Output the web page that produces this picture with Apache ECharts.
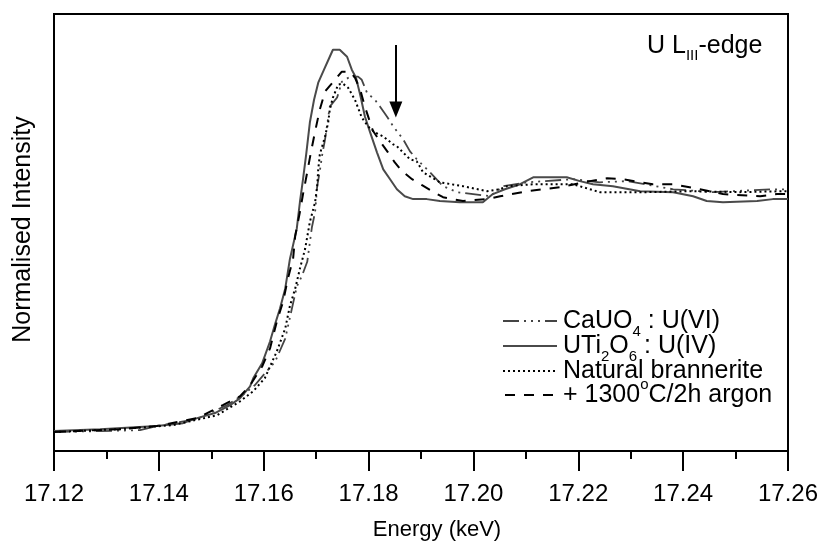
<!DOCTYPE html>
<html>
<head>
<meta charset="utf-8">
<script src="https://cdn.jsdelivr.net/npm/echarts@6/dist/echarts.min.js"></script>
<style>html,body{margin:0;padding:0;background:#fff}#c{width:823px;height:546px}</style>
</head>
<body>
<div id="c"></div>
<script>
// ---- Data (energy in keV, normalised intensity) ----
const caEnergy = [17.1200,17.1288,17.1364,17.1396,17.1473,17.1530,17.1564,17.1583,17.1599,17.1622,17.1641,17.1663,17.1673,17.1683,17.1692,17.1698,17.1702,17.1707,17.1711,17.1717,17.1726,17.1740,17.1749,17.1765,17.1780,17.1787,17.1797,17.1812,17.1822,17.1835,17.1847,17.1866,17.1879,17.1892,17.1917,17.1942,17.1969,17.2032,17.2056,17.2102,17.2190,17.2241,17.2293,17.2381,17.2457,17.2571,17.2600];
const caInt    = [-0.001,0.003,0.007,0.024,0.053,0.111,0.160,0.194,0.235,0.293,0.388,0.604,0.650,0.708,0.853,0.915,1.023,1.085,1.147,1.218,1.354,1.392,1.458,1.479,1.479,1.466,1.412,1.383,1.354,1.313,1.272,1.218,1.168,1.135,1.081,1.023,0.998,0.981,1.023,1.039,1.052,1.039,1.044,1.010,0.998,1.010,1.010];

const utiEnergy = [17.1200,17.1288,17.1396,17.1446,17.1473,17.1507,17.1536,17.1555,17.1574,17.1580,17.1597,17.1612,17.1622,17.1631,17.1641,17.1650,17.1663,17.1669,17.1675,17.1681,17.1688,17.1696,17.1704,17.1715,17.1726,17.1732,17.1745,17.1759,17.1768,17.1776,17.1784,17.1793,17.1803,17.1816,17.1828,17.1841,17.1854,17.1869,17.1885,17.1911,17.1936,17.1974,17.2018,17.2037,17.2060,17.2089,17.2114,17.2146,17.2178,17.2203,17.2228,17.2266,17.2318,17.2381,17.2419,17.2445,17.2476,17.2541,17.2571,17.2600];
const utiInt    = [0.003,0.011,0.024,0.036,0.057,0.078,0.111,0.140,0.189,0.223,0.285,0.376,0.451,0.513,0.596,0.720,0.845,0.956,1.052,1.155,1.288,1.383,1.454,1.508,1.562,1.591,1.591,1.562,1.508,1.475,1.404,1.313,1.247,1.164,1.093,1.052,1.010,0.981,0.969,0.969,0.961,0.956,0.956,0.990,1.010,1.031,1.060,1.060,1.060,1.044,1.031,1.023,1.002,0.998,0.981,0.961,0.956,0.961,0.969,0.969];

const natEnergy = [17.1200,17.1326,17.1427,17.1511,17.1555,17.1580,17.1602,17.1625,17.1641,17.1650,17.1660,17.1669,17.1679,17.1688,17.1698,17.1702,17.1704,17.1707,17.1717,17.1723,17.1726,17.1732,17.1742,17.1751,17.1761,17.1774,17.1787,17.1799,17.1812,17.1828,17.1847,17.1854,17.1879,17.1892,17.1904,17.1917,17.1936,17.1980,17.2026,17.2051,17.2064,17.2114,17.2190,17.2241,17.2331,17.2413,17.2508,17.2590,17.2600];
const natInt    = [-0.001,0.011,0.028,0.069,0.127,0.169,0.223,0.335,0.430,0.525,0.596,0.679,0.762,0.874,0.956,1.023,1.093,1.155,1.230,1.288,1.342,1.392,1.446,1.450,1.433,1.383,1.309,1.272,1.247,1.230,1.197,1.189,1.135,1.126,1.081,1.064,1.039,1.023,1.002,1.010,1.023,1.031,1.031,0.998,0.998,1.002,0.998,1.002,1.002];

const argEnergy = [17.1200,17.1326,17.1396,17.1473,17.1522,17.1555,17.1574,17.1597,17.1612,17.1625,17.1637,17.1646,17.1656,17.1660,17.1669,17.1675,17.1683,17.1690,17.1698,17.1707,17.1717,17.1726,17.1736,17.1749,17.1765,17.1774,17.1784,17.1793,17.1808,17.1822,17.1837,17.1850,17.1864,17.1883,17.1902,17.1921,17.1942,17.1980,17.2026,17.2051,17.2102,17.2165,17.2222,17.2255,17.2285,17.2342,17.2381,17.2432,17.2476,17.2547,17.2579,17.2600];
const argInt    = [-0.001,0.011,0.024,0.057,0.111,0.148,0.194,0.272,0.347,0.459,0.542,0.637,0.720,0.815,0.915,0.990,1.081,1.164,1.251,1.342,1.417,1.441,1.466,1.500,1.500,1.475,1.425,1.354,1.255,1.209,1.164,1.122,1.085,1.052,1.027,1.002,0.977,0.961,0.969,0.981,1.002,1.019,1.044,1.056,1.052,1.031,1.031,1.010,0.990,0.981,0.990,0.990];

const arrowEnergy = 17.1852;
const arrowFrom = 1.611;
const arrowTo = 1.342;

const xMin = 17.12, xMax = 17.26, xStep = 0.02;
const yMin = -0.08, yMax = 1.74;

const zip = (a, b) => a.map((v, i) => [v, b[i]]);

const FONT = '"Liberation Sans", Arial, sans-serif';
const LF = '25px ' + FONT;
const subRich = {s: {fontSize: 15, fontFamily: FONT, fill: '#000', verticalAlign: 'bottom', lineHeight: 15}};
const chart = echarts.init(document.getElementById('c'), null, {renderer: 'canvas'});
chart.setOption({
  animation: false,
  backgroundColor: '#fff',
  grid: {left: 54, right: 35, top: 14, bottom: 93, show: true, borderColor: '#000', borderWidth: 2, backgroundColor: 'transparent'},
  xAxis: {
    type: 'value', min: xMin, max: xMax, interval: xStep,
    name: 'Energy (keV)', nameLocation: 'middle', nameGap: 68,
    nameTextStyle: {fontFamily: FONT, fontSize: 22, color: '#000', padding: [0, 0, 0, 32]},
    axisLine: {show: true, onZero: false, lineStyle: {color: '#000', width: 2}},
    axisTick: {show: true, length: 20, lineStyle: {color: '#000', width: 2}},
    minorTick: {show: true, splitNumber: 2, length: 8, lineStyle: {color: '#000', width: 2}},
    axisLabel: {fontFamily: FONT, fontSize: 24, color: '#000', margin: 31, formatter: v => v.toFixed(2)},
    splitLine: {show: false}, minorSplitLine: {show: false}
  },
  yAxis: {
    type: 'value', min: yMin, max: yMax,
    name: 'Normalised Intensity', nameLocation: 'middle', nameGap: 18,
    nameTextStyle: {fontFamily: FONT, fontSize: 25, color: '#000', padding: [0, 0, 0, 6]},
    axisLine: {show: true, onZero: false, lineStyle: {color: '#000', width: 2}},
    axisTick: {show: false}, axisLabel: {show: false}, splitLine: {show: false}
  },
  series: [
    {name: 'CaUO4 : U(VI)', type: 'line', data: zip(caEnergy, caInt), showSymbol: false,
     lineStyle: {color: '#444', width: 1.8, type: [16, 5, 2, 5, 2, 5, 2, 5]}},
    {name: 'UTi2O6 : U(IV)', type: 'line', data: zip(utiEnergy, utiInt), showSymbol: false,
     lineStyle: {color: '#4a4a4a', width: 2, type: 'solid'},
     markLine: {silent: true, symbol: ['none', 'triangle'], symbolSize: [13, 16], label: {show: false},
       lineStyle: {color: '#000', width: 2, type: 'solid'},
       data: [[{coord: [arrowEnergy, arrowFrom]}, {coord: [arrowEnergy, arrowTo]}]]}},
    {name: 'Natural brannerite', type: 'line', data: zip(natEnergy, natInt), showSymbol: false,
     lineStyle: {color: '#000', width: 2, type: [2, 3]}},
    {name: '+ 1300oC/2h argon', type: 'line', data: zip(argEnergy, argInt), showSymbol: false,
     lineStyle: {color: '#000', width: 2, type: [10, 9]}}
  ],
  graphic: [
    {type: 'text', x: 647, y: 46, style: {text: 'U L{s|III}-edge', fill: '#000', font: LF, verticalAlign: 'middle', lineHeight: 34, rich: subRich}},
    {type: 'line', shape: {x1: 503, y1: 321, x2: 557, y2: 321}, style: {stroke: '#444', lineWidth: 1.8, lineDash: [16, 5, 2, 5, 2, 5, 2, 5]}},
    {type: 'line', shape: {x1: 503, y1: 346, x2: 557, y2: 346}, style: {stroke: '#4a4a4a', lineWidth: 2}},
    {type: 'line', shape: {x1: 503, y1: 371, x2: 557, y2: 371}, style: {stroke: '#000', lineWidth: 2, lineDash: [2, 3]}},
    {type: 'line', shape: {x1: 505, y1: 395, x2: 557, y2: 395}, style: {stroke: '#000', lineWidth: 2, lineDash: [10, 9]}},
    {type: 'text', x: 563, y: 321, style: {text: 'CaUO{s|4} : U(VI)', fill: '#000', font: LF, verticalAlign: 'middle', lineHeight: 36, rich: subRich}},
    {type: 'text', x: 563, y: 346, style: {text: 'UTi{s|2}O{s|6} : U(IV)', fill: '#000', font: LF, verticalAlign: 'middle', lineHeight: 36, rich: subRich}},
    {type: 'text', x: 563, y: 371, style: {text: 'Natural brannerite', fill: '#000', font: LF, verticalAlign: 'middle'}},
    {type: 'text', x: 563, y: 395, style: {text: '+ 1300{p|o}C/2h argon', fill: '#000', font: LF, verticalAlign: 'middle', lineHeight: 36,
      rich: {p: {fontSize: 15, fontFamily: FONT, fill: '#000', verticalAlign: 'top', lineHeight: 15}}}}
  ]
});
</script>
</body>
</html>
